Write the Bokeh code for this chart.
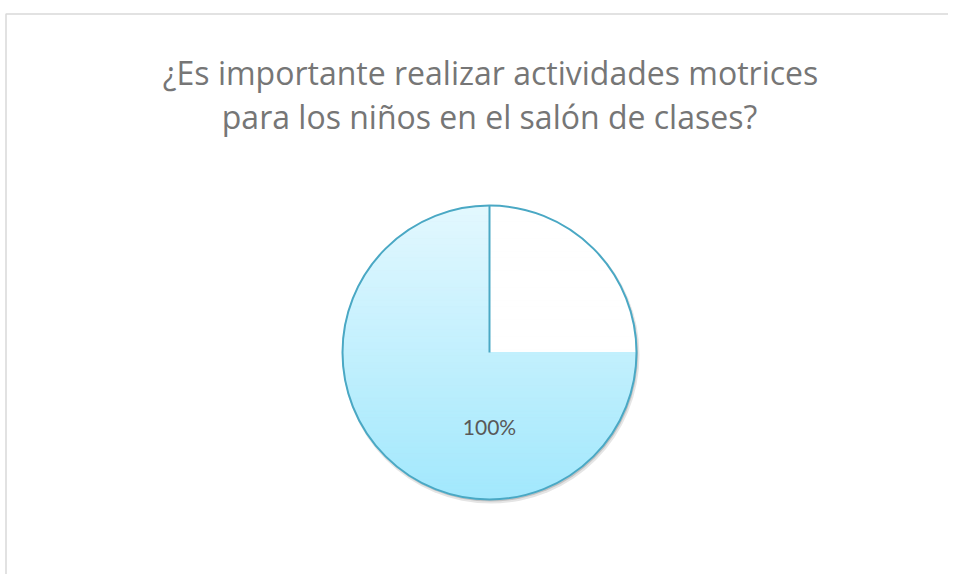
import numpy as np
from bokeh.plotting import figure
from bokeh.models import Range1d
from bokeh.embed import file_html
from bokeh.resources import INLINE
from bokeh.core.properties import value

# ---- data ----
title_lines = ["¿Es importante realizar actividades motrices",
               "para los niños en el salón de clases?"]
categories = ["No", "Sí"]
values = [25, 75]
labels = ["", "100%"]

# ---- styles ----
fill_top = ["#ffffff", "#e3f8fe"]
fill_bottom = ["#ffffff", "#a2e8fd"]
outline_color = "#4aa8c4"
W, H = 948, 574
CX, CY, R = 489, 230, 147          # data x = page x, data y = 582 - page y

p = figure(width=W, height=H, x_range=Range1d(0, W), y_range=Range1d(8, 8 + H),
           output_backend="svg", toolbar_location=None, min_border=0)
p.axis.visible = False
p.grid.visible = False
p.outline_line_color = None
p.background_fill_color = "white"
p.border_fill_color = "white"

# chart-area border (light gray)
p.line(x=[5.5, 5.5, W], y=[8, 568.5, 568.5], line_color="#d9d9d9", line_width=1.5)

# title
p.text(x=[490, 489], y=[510, 466], text=title_lines, text_align="center",
       text_baseline="alphabetic", text_font=value("Open Sans"), text_font_size="32px",
       text_color="#767676")

# shadow
p.scatter(x=[CX + 1.5], y=[CY - 2.5], size=2 * R + 3, marker="circle",
          fill_color="#000000", fill_alpha=0.10, line_color=None)
p.scatter(x=[CX + 1.0], y=[CY - 1.5], size=2 * R + 1, marker="circle",
          fill_color="#000000", fill_alpha=0.15, line_color=None)


def clip(poly, yv, keep_above):
    out = []
    n = len(poly)
    for i in range(n):
        a, b = poly[i], poly[(i + 1) % n]
        ina = a[1] >= yv if keep_above else a[1] <= yv
        inb = b[1] >= yv if keep_above else b[1] <= yv
        if ina:
            out.append(a)
        if ina != inb:
            t = (yv - a[1]) / (b[1] - a[1])
            out.append((a[0] + t * (b[0] - a[0]), yv))
    return out


def hex2rgb(h):
    return np.array([int(h[i:i + 2], 16) for i in (1, 3, 5)], dtype=float)


total = float(sum(values))
start = np.pi / 2
angles = []
for i, v in enumerate(values):
    sweep = 2 * np.pi * v / total
    end = start - sweep          # clockwise
    angles.append((start, end))
    th = np.linspace(start, end, 200)
    poly = [(CX, CY)] + [(CX + R * np.cos(t), CY + R * np.sin(t)) for t in th]
    c0, c1 = hex2rgb(fill_top[i]), hex2rgb(fill_bottom[i])
    nb = 90
    edges = np.linspace(CY + R, CY - R, nb + 1)
    xs, ys, cols = [], [], []
    for k in range(nb):
        ya, yb = edges[k + 1], edges[k]
        pc = clip(clip(poly, ya, True), yb, False)
        if len(pc) < 3:
            continue
        f = (k + 0.5) / nb
        c = c0 + (c1 - c0) * f
        cols.append("#%02x%02x%02x" % tuple(int(round(x)) for x in c))
        xs.append([q[0] for q in pc])
        ys.append([q[1] for q in pc])
    p.patches(xs=xs, ys=ys, fill_color=cols, line_color=cols, line_width=1)
    start = end

# outline and slice boundary
p.arc(x=[CX], y=[CY], radius=R, start_angle=0, end_angle=2 * np.pi,
      line_color=outline_color, line_width=2)
s0 = angles[0][0]
p.line(x=[CX, CX + R * np.cos(s0)], y=[CY, CY + R * np.sin(s0)],
       line_color=outline_color, line_width=2)

# data label
for i, lab in enumerate(labels):
    if lab:
        p.text(x=[CX], y=[CY - 0.5 * R], text=[lab], text_align="center",
               text_baseline="alphabetic", text_font=value("Lato"),
               text_font_size="21px", text_color="#595959")

open("out.html", "w").write(file_html(p, INLINE))
